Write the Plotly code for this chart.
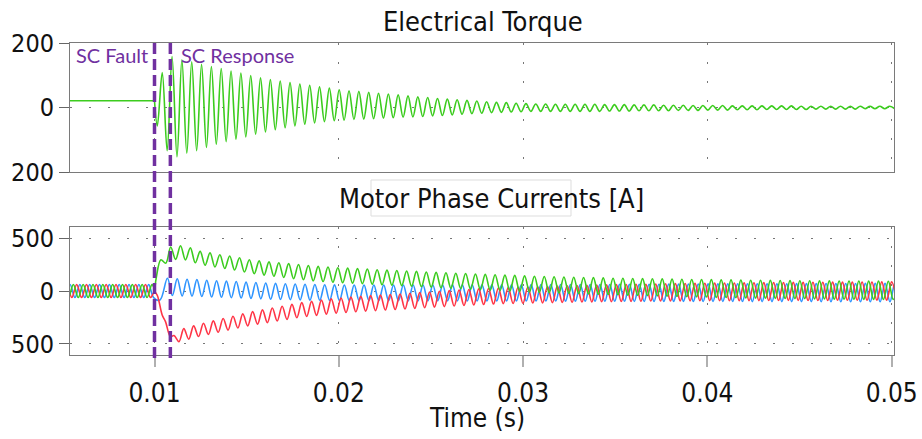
import numpy as np
import plotly.graph_objects as go

# Oscillation period of the post-fault swing (s); samples sit on its half-period extrema
T_OSC = 0.0005334
HALF = T_OSC / 2

X_RANGE = [0.005415, 0.050125]
TIME_TICKS = [0.01, 0.02, 0.03, 0.04, 0.05]
TIME_LABELS = ["0.01", "0.02", "0.03", "0.04", "0.05"]
TORQUE_TICKS = [-200, 0, 200]
TORQUE_LABELS = ["200", "0", "200"]
CURRENT_TICKS = [-500, 0, 500]
CURRENT_LABELS = ["500", "0", "500"]

FAULT_T = 0.0100
RESPONSE_T = 0.01086

# ---- Electrical torque ----
torque_pre_t = [0.0050, 0.0100]
torque_pre = [21, 21]
torque_swing_t0 = 0.010153
torque_swing = [
    -57, 108, -134, 158, -153, 148, -142, 142, -134, 134,
    -124, 127, -114, 121, -106, 113, -98, 107, -91, 99,
    -83, 92, -76, 87, -69, 82, -63, 77, -57, 73,
    -52, 69, -48, 64, -44, 60, -41, 55, -39, 52,
    -37, 50, -36, 47, -35, 44, -33, 42, -32, 39,
    -30, 36, -29, 33, -28, 31, -26, 28, -25, 26,
    -23, 24, -21, 22, -19, 20, -18, 18, -16, 16,
    -15, 15, -14, 13, -13, 12, -12, 11, -12, 11,
    -12, 10, -12, 10, -12, 10, -12, 10, -12, 10,
    -12, 9, -11, 9, -11, 9, -11, 8, -10, 8,
    -10, 8, -10, 7, -10, 7, -9, 7, -9, 6,
    -9, 6, -8, 6, -8, 6, -8, 5, -7, 5,
    -7, 5, -7, 5, -6, 5, -6, 5, -6, 5,
    -6, 4, -6, 4, -5, 4, -5, 4, -5, 4,
    -5, 4, -5, 4, -4, 4, -4, 4, -4, 4,
    -4,
]

# ---- Motor phase currents: pre-fault swing, fault transient, post-fault swing ----
green_pre_t0 = 0.005063
green_pre = [62, -61, 62, -62, 61, -62, 62, -61, 62, -62,
             61, -62, 62, -61, 62, -62, 61, -62, 62]
green_jump_t = [0.0100, 0.01008, 0.010347, 0.010613]
green_jump = [30, 110, 295, 262]
green_post_t0 = 0.010879
green_post = [
    415, 298, 427, 293, 407, 266, 374, 243, 360, 227,
    342, 212, 330, 198, 314, 179, 295, 163, 284, 150,
    275, 139, 266, 128, 258, 116, 250, 106, 240, 96,
    232, 89, 226, 83, 220, 78, 216, 74, 211, 69,
    207, 64, 201, 59, 197, 55, 193, 51, 189, 45,
    185, 40, 180, 36, 176, 30, 172, 26, 168, 22,
    165, 17, 160, 12, 157, 7, 153, 4, 150, 0,
    147, -5, 143, -9, 139, -13, 137, -16, 134, -19,
    132, -22, 130, -25, 127, -28, 126, -31, 124, -33,
    121, -36, 120, -39, 118, -41, 117, -44, 115, -46,
    114, -49, 112, -51, 111, -54, 109, -55, 108, -57,
    107, -60, 105, -62, 105, -63, 103, -65, 102, -67,
    101, -68, 100, -70, 99, -71, 98, -72, 97, -73,
    97, -75, 96, -76, 96, -77, 95, -77, 94, -78,
    94, -79, 93, -79, 93, -80, 92, -80, 92,
]

blue_pre_t0 = 0.004884
blue_pre = [62, -62, 61, -62, 62, -61, 62, -62, 61, -62,
            62, -61, 62, -62, 61, -62, 62, -61, 62, -62]
blue_jump_t = [0.010298]
blue_jump = [-85]
blue_post_t0 = 0.010701
blue_post = [
    120, -42, 116, -46, 111, -49, 107, -52, 102, -56,
    97, -59, 93, -63, 89, -66, 84, -70, 80, -74,
    76, -78, 72, -80, 69, -82, 66, -84, 63, -86,
    61, -88, 59, -90, 58, -91, 57, -92, 56, -92,
    56, -92, 56, -92, 56, -92, 57, -92, 57, -93,
    57, -93, 57, -93, 57, -93, 57, -93, 58, -93,
    58, -94, 58, -94, 58, -94, 58, -94, 59, -94,
    59, -94, 59, -95, 60, -95, 60, -95, 60, -95,
    61, -96, 61, -96, 61, -96, 62, -97, 62, -97,
    62, -97, 63, -97, 63, -98, 63, -98, 64, -98,
    64, -98, 65, -98, 65, -98, 66, -99, 66, -99,
    67, -99, 67, -99, 67, -99, 68, -99, 68, -100,
    68, -100, 69, -100, 69, -100, 69, -100, 70, -100,
    70, -100, 70, -101, 71, -101, 71, -101, 71, -101,
    71, -101, 72, -101, 72, -101, 72, -101, 72, -101,
]

red_pre_t0 = 0.004978
red_pre = [-62, 62, -61, 62, -62, 61, -62, 62, -61, 62,
           -62, 61, -62, 62, -61, 62, -62, 61, -62]
red_jump_t = [0.0100, 0.010145, 0.010416, 0.010597, 0.010868]
red_jump = [-10, -38, -226, -289, -431]
red_post_t0 = 0.011057
red_post = [
    -420, -478, -355, -454, -329, -430, -304, -410, -282, -390,
    -260, -369, -238, -349, -216, -329, -195, -313, -178, -298,
    -161, -283, -144, -268, -126, -252, -110, -240, -98, -230,
    -86, -219, -74, -210, -66, -203, -58, -196, -51, -190,
    -44, -186, -39, -180, -33, -175, -28, -170, -21, -164,
    -15, -158, -9, -152, -2, -147, 4, -142, 9, -137,
    14, -132, 20, -128, 24, -123, 29, -119, 32, -118,
    35, -116, 38, -113, 40, -112, 43, -110, 46, -107,
    49, -106, 51, -104, 54, -103, 56, -101, 58, -101,
    60, -99, 61, -98, 63, -97, 64, -95, 66, -95,
    68, -94, 70, -94, 71, -93, 72, -92, 73, -92,
    74, -92, 75, -92, 76, -91, 77, -91, 78, -91,
    79, -90, 80, -90, 80, -89, 81, -89, 81, -90,
    83, -89, 83, -89, 84, -88, 84, -88, 84, -87,
    85, -87, 85, -86, 86, -86, 86, -86,
]

GREEN = "#3ccc1e"
BLUE = "#2f95ff"
RED = "#ff3546"
PURPLE = "#7030a0"
FONT = "DejaVu Sans Condensed, DejaVu Sans, sans-serif"


def half_period_times(t0, n):
    return t0 + HALF * np.arange(n)


def phase_series(pre_t0, pre, jump_t, jump, post_t0, post):
    t = np.concatenate([half_period_times(pre_t0, len(pre)), jump_t,
                        half_period_times(post_t0, len(post))])
    v = np.concatenate([pre, jump, post])
    return t, v


fig = go.Figure()

# Flat torque before the fault, then the decaying swing
fig.add_trace(go.Scatter(x=torque_pre_t, y=torque_pre, mode="lines", xaxis="x", yaxis="y",
                         line=dict(color=GREEN, width=1.6),
                         showlegend=False, hoverinfo="skip"))
tq_t = np.concatenate([[torque_pre_t[-1]], half_period_times(torque_swing_t0, len(torque_swing))])
tq_v = np.concatenate([[torque_pre[-1]], torque_swing])
fig.add_trace(go.Scatter(x=tq_t, y=tq_v, mode="lines", xaxis="x", yaxis="y",
                         line=dict(color=GREEN, width=1.6, shape="spline", smoothing=1),
                         showlegend=False, hoverinfo="skip"))

for pre_t0, pre, jt, jv, post_t0, post, color in [
    (blue_pre_t0, blue_pre, blue_jump_t, blue_jump, blue_post_t0, blue_post, BLUE),
    (red_pre_t0, red_pre, red_jump_t, red_jump, red_post_t0, red_post, RED),
    (green_pre_t0, green_pre, green_jump_t, green_jump, green_post_t0, green_post, GREEN),
]:
    t, v = phase_series(pre_t0, pre, jt, jv, post_t0, post)
    fig.add_trace(go.Scatter(x=t, y=v, mode="lines", xaxis="x2", yaxis="y2",
                             line=dict(color=color, width=1.6, shape="spline", smoothing=1),
                             showlegend=False, hoverinfo="skip"))

W, H = 922, 439
x_dom = [70 / W, 894 / W]
frame = dict(showline=True, linecolor="#7a7a7a", linewidth=1, mirror=True,
             zeroline=False, automargin=False)
dots = dict(showgrid=True, gridcolor="#777777", gridwidth=1, griddash="2px,17px")

fig.update_layout(
    width=W, height=H, autosize=False,
    margin=dict(l=0, r=0, t=0, b=0, autoexpand=False),
    paper_bgcolor="white", plot_bgcolor="white",
    font=dict(family=FONT, color="#111111"),
    xaxis=dict(domain=x_dom, range=X_RANGE, anchor="y", tickvals=TIME_TICKS,
               showticklabels=False, ticks="", **frame, **dots),
    xaxis2=dict(domain=x_dom, range=X_RANGE, anchor="y2", tickvals=TIME_TICKS,
                ticktext=TIME_LABELS, ticks="outside", ticklen=11, tickwidth=2,
                tickcolor="#b0b0b0", tickfont=dict(size=26, family=FONT),
                ticklabelstandoff=4, **frame, **dots),
    yaxis=dict(domain=[1 - 172 / H, 1 - 43 / H], range=[-200, 200], anchor="x",
               tickvals=TORQUE_TICKS, ticktext=TORQUE_LABELS, ticks="outside",
               ticklen=10, tickcolor="#666666", tickfont=dict(size=25, family=FONT),
               **frame, **dots),
    yaxis2=dict(domain=[1 - 355 / H, 1 - 227 / H], range=[-604, 604], anchor="x2",
                tickvals=CURRENT_TICKS, ticktext=CURRENT_LABELS, ticks="outside",
                ticklen=10, tickcolor="#666666", tickfont=dict(size=25, family=FONT),
                **frame, **dots),
)

# Fault / response markers spanning both panels
for t_mark in (FAULT_T, RESPONSE_T):
    fig.add_shape(type="line", xref="x", yref="paper", x0=t_mark, x1=t_mark,
                  y0=1 - 358 / H, y1=1 - 43 / H,
                  line=dict(color=PURPLE, width=3.5, dash="11px,5px"))

# Light frame around the lower panel title
fig.add_shape(type="rect", xref="paper", yref="paper",
              x0=371 / W, x1=571 / W, y0=1 - 216 / H, y1=1 - 180 / H,
              line=dict(color="#dddddd", width=1))

fig.add_annotation(text="Electrical Torque", xref="paper", yref="paper",
                   x=483 / W, y=1 - 22 / H, showarrow=False, xanchor="center", yanchor="middle",
                   font=dict(size=27, family=FONT, color="#111111"))
fig.add_annotation(text="Motor Phase Currents [A]", xref="paper", yref="paper",
                   x=492 / W, y=1 - 198 / H, showarrow=False, xanchor="center", yanchor="middle",
                   font=dict(size=27, family=FONT, color="#111111"))
fig.add_annotation(text="Time (s)", xref="paper", yref="paper",
                   x=477 / W, y=1 - 418 / H, showarrow=False, xanchor="center", yanchor="middle",
                   font=dict(size=26, family=FONT, color="#111111"))
fig.add_annotation(text="SC Fault", xref="paper", yref="paper",
                   x=150 / W, y=1 - 55 / H, showarrow=False, xanchor="right", yanchor="middle",
                   font=dict(size=20, family="Lato", color=PURPLE))
fig.add_annotation(text="SC Response", xref="paper", yref="paper",
                   x=179 / W, y=1 - 55 / H, showarrow=False, xanchor="left", yanchor="middle",
                   font=dict(size=20, family="Lato", color=PURPLE))

fig.write_html("out.html")
